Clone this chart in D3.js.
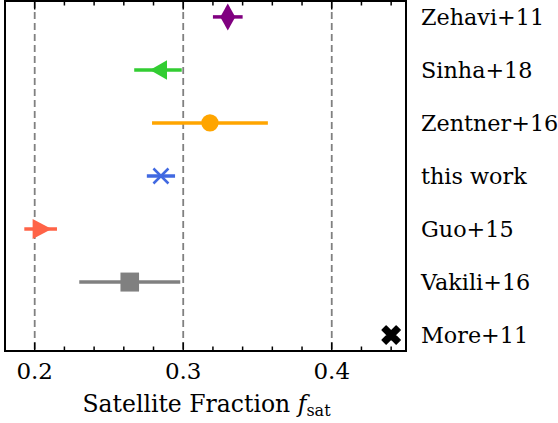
<!DOCTYPE html>
<html>
<head>
<meta charset="utf-8">
<script src="https://cdn.jsdelivr.net/npm/d3@7"></script>
<style>
  html, body { margin: 0; padding: 0; background: #fff; }
  svg { display: block; }
</style>
</head>
<body>
<svg id="chart" width="558" height="423"></svg>
<script>
// ---- data ----
const labels  = ["Zehavi+11", "Sinha+18", "Zentner+16", "this work", "Guo+15", "Vakili+16", "More+11"];
const values  = [0.330, 0.283, 0.318, 0.285, 0.204, 0.264, 0.440];
const errors  = [0.010, 0.016, 0.039, 0.0095, 0.011, 0.034, 0];
const colors  = ["#800080", "#32cd32", "#ffa500", "#4169e1", "#ff6347", "#808080", "#000000"];
const markers = ["thinDiamond", "triLeft", "circle", "x", "triRight", "square", "boldX"];
const xMajorTicks = [0.2, 0.3, 0.4];
const xMinorTicks = [0.22, 0.24, 0.26, 0.28, 0.32, 0.34, 0.36, 0.38, 0.42, 0.44];
const xDomain = [0.18, 0.45];
const xLabel = "Satellite Fraction ";

// ---- layout ----
const FONT = "'DejaVu Serif', 'Liberation Serif', serif";
const svg = d3.select("#chart");
const L = 5, R = 406, T = 1, B = 351;

const x = d3.scaleLinear().domain(xDomain).range([L, R]);
const y = d3.scalePoint().domain(labels).range([T, B]).padding(0.3);

const rows = labels.map((l, i) => ({ label: l, v: values[i], e: errors[i], c: colors[i], m: markers[i] }));

// grid lines
svg.append("g").selectAll("line").data(xMajorTicks).join("line")
  .attr("x1", d => x(d)).attr("x2", d => x(d))
  .attr("y1", T).attr("y2", B)
  .attr("stroke", "#808080").attr("stroke-width", 1.8)
  .attr("stroke-dasharray", "7,4");

// error bars
svg.append("g").selectAll("line").data(rows.filter(d => d.e > 0)).join("line")
  .attr("x1", d => x(d.v - d.e)).attr("x2", d => x(d.v + d.e))
  .attr("y1", d => y(d.label)).attr("y2", d => y(d.label))
  .attr("stroke", d => d.c).attr("stroke-width", 3.5);

// markers
function markerPath(m) {
  switch (m) {
    case "thinDiamond": return "M0,-13.5L7.5,0L0,13.5L-7.5,0Z";
    case "triLeft": return "M-8,0L9,-9.7L9,9.7Z";
    case "triRight": return "M11,0L-8,-10L-8,10Z";
    case "square": return "M-9.3,-9.5H9.3V9.5H-9.3Z";
    case "circle": return d3.symbol(d3.symbolCircle, 235)();
    case "x": return "M-7.5,-7.5L7.5,7.5M-7.5,7.5L7.5,-7.5";
    case "boldX": return "M-9,-5L-5,-9L0,-4L5,-9L9,-5L4,0L9,5L5,9L0,4L-5,9L-9,5L-4,0Z";
  }
}
svg.append("g").selectAll("path").data(rows).join("path")
  .attr("transform", d => `translate(${x(d.v)},${y(d.label)})`)
  .attr("d", d => markerPath(d.m))
  .attr("fill", d => d.m === "x" ? "none" : d.c)
  .attr("stroke", d => (d.m === "x" || d.m === "boldX") ? d.c : "none")
  .attr("stroke-width", d => d.m === "x" ? 2.5 : (d.m === "boldX" ? 1.5 : 0))
  .attr("stroke-linejoin", "round");

// frame
svg.append("rect").attr("x", L).attr("y", T).attr("width", R - L).attr("height", B - T)
  .attr("fill", "none").attr("stroke", "#000").attr("stroke-width", 2);

// ticks (inward, top & bottom)
const tg = svg.append("g").attr("stroke", "#000").attr("stroke-width", 1.5);
[[xMajorTicks, 8.5], [xMinorTicks, 4.5]].forEach(([ticks, len]) => {
  tg.selectAll(null).data(ticks).join("line")
    .attr("x1", d => x(d)).attr("x2", d => x(d)).attr("y1", B).attr("y2", B - len);
  tg.selectAll(null).data(ticks).join("line")
    .attr("x1", d => x(d)).attr("x2", d => x(d)).attr("y1", T).attr("y2", T + len);
});

// tick labels
svg.append("g").selectAll("text").data(xMajorTicks).join("text")
  .attr("x", d => x(d)).attr("y", 379)
  .attr("text-anchor", "middle").attr("font-size", 23).attr("font-family", FONT)
  .text(d => d3.format(".1f")(d));

// row labels (right)
svg.append("g").selectAll("text").data(labels).join("text")
  .attr("x", 421).attr("y", d => y(d) + 8)
  .attr("font-size", 22.3).attr("font-family", FONT)
  .text(d => d);

// x axis label
const xl = svg.append("text").attr("x", (L + R) / 2 + 1).attr("y", 412)
  .attr("text-anchor", "middle").attr("font-size", 23.5).attr("font-family", FONT);
xl.append("tspan").text(xLabel);
xl.append("tspan").attr("font-style", "italic").text("f");
xl.append("tspan").attr("font-size", 16).attr("dy", 4).text("sat");
</script>
</body>
</html>
